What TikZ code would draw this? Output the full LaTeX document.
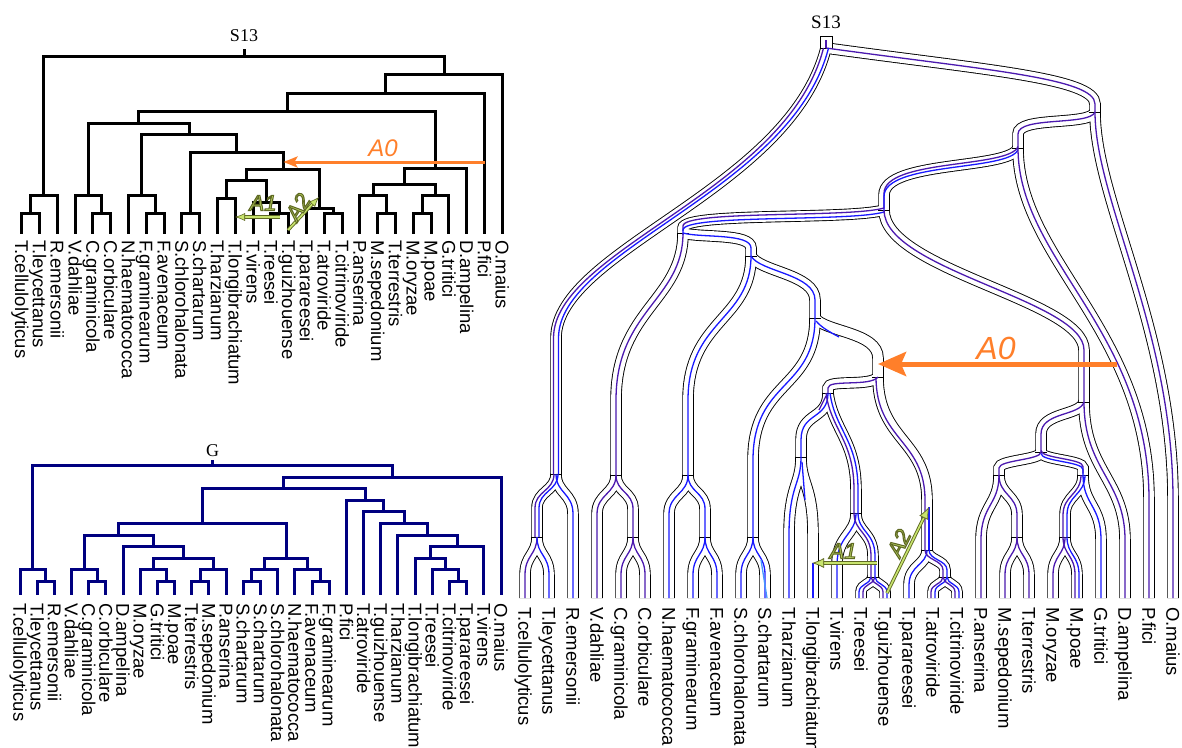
\documentclass[tikz,border=0pt]{standalone}
\usepackage{fontspec}
\setmainfont{Liberation Serif}
\newfontfamily\lab{Liberation Sans}
\usetikzlibrary{arrows.meta}
\definecolor{ind}{RGB}{75,25,175}
\definecolor{blu}{RGB}{25,25,255}
\definecolor{lblu}{RGB}{70,150,255}
\definecolor{navyt}{RGB}{0,0,128}
\definecolor{orng}{RGB}{255,127,42}
\definecolor{ag}{RGB}{200,228,110}
\definecolor{ao}{RGB}{95,105,35}
% clade bracket: xl, yl(bottom), xr, yr(bottom), y(bar)
\newcommand\cl[6][]{\draw[sp,#1] (#2,#3) -- (#2,#6) -- (#4,#6) -- (#4,#5);}
% smooth edge: style, parent x,y, child x,y, control y, curve end y
\newcommand\se[7]{\draw[#1] (#2,#3) .. controls (#2,#6) and (#4,#6) .. (#4,#7) -- (#4,#5);}
\newcommand\pRA[1]{\draw[#1] (826,48) .. controls (985,70) and (1095,78) .. (1095,104) -- (1095,112);}
\newcommand\pRT[1]{\draw[#1] (826,48) .. controls (790,190) and (556,250) .. (556,338) -- (556,474);}
\newcommand\pAB[1]{\draw[#1] (1095,112) .. controls (1090,126) and (1018,116) .. (1018,134) -- (1018,148);}
\newcommand\pAO[1]{\draw[#1] (1095,112) .. controls (1095,200) and (1173,330) .. (1173,500) -- (1173,598);}
\newcommand\pBC[1]{\draw[#1] (1018,148) .. controls (1010,170) and (884,160) .. (884,195) -- (884,210);}
\newcommand\pBP[1]{\draw[#1] (1018,148) .. controls (1018,260) and (1149,330) .. (1149,500) -- (1149,598);}
\newcommand\pCE[1]{\draw[#1] (884,210) .. controls (850,220) and (683,212) .. (683,228) -- (683,233);}
\newcommand\pCD[1]{\draw[#1] (884,210) .. controls (884,270) and (1084,300) .. (1084,350) -- (1084,402);}
\newcommand\pEV[1]{\draw[#1] (683,233) .. controls (683,300) and (616,310) .. (616,400) -- (616,475);}
\newcommand\pEF[1]{\draw[#1] (683,233) .. controls (700,238) and (751,233) .. (751,248) -- (751,256);}
\newcommand\pFN[1]{\draw[#1] (751,256) .. controls (751,320) and (688,320) .. (688,400) -- (688,475);}
\newcommand\pFG[1]{\draw[#1] (751,256) .. controls (760,272) and (815,274) .. (815,300) -- (815,318);}
\newcommand\pGS[1]{\draw[#1] (815,318) .. controls (815,390) and (753,380) .. (753,460) -- (753,537);}
\newcommand\pGH[1]{\draw[#1] (815,318) .. controls (825,332) and (878,332) .. (878,358) -- (878,377);}
\newcommand\pHI[1]{\draw[#1] (878,377) .. controls (870,387) and (828,379) .. (828,388) -- (828,393);}
\newcommand\pHK[1]{\draw[#1] (878,377) .. controls (878,440) and (927,440) .. (927,500) -- (927,550);}
\newcommand\pIT[1]{\draw[#1] (828,393) .. controls (828,420) and (801,412) .. (801,440) -- (801,457);}
\newcommand\pIV[1]{\draw[#1] (828,393) .. controls (833,430) and (856,440) .. (856,490) -- (856,513);}
\newcommand\pDQ[1]{\draw[#1] (1084,402) .. controls (1080,416) and (1041,412) .. (1041,434) -- (1041,452);}
\newcommand\pDA[1]{\draw[#1] (1084,402) .. controls (1084,470) and (1125,480) .. (1125,540) -- (1125,598);}
\newcommand\rtree[1]{%
 \pRA{#1}\pRT{#1}\pAB{#1}\pAO{#1}\pBC{#1}\pBP{#1}\pCE{#1}\pCD{#1}\pEV{#1}\pEF{#1}
 \pFN{#1}\pFG{#1}\pGS{#1}\pGH{#1}\pHI{#1}\pHK{#1}\pIT{#1}\pIV{#1}\pDQ{#1}\pDA{#1}
 \se{#1}{556}{474}{537}{537}{491}{508}\se{#1}{556}{474}{573}{598}{493}{514}
 \se{#1}{537}{537}{525}{598}{555}{575}\se{#1}{537}{537}{549}{598}{555}{575}
 \se{#1}{616}{475}{597}{598}{494}{514}\se{#1}{616}{475}{633}{537}{492}{509}
 \se{#1}{633}{537}{621}{598}{555}{575}\se{#1}{633}{537}{645}{598}{555}{575}
 \se{#1}{688}{475}{669}{598}{494}{514}\se{#1}{688}{475}{705}{537}{492}{509}
 \se{#1}{705}{537}{693}{598}{555}{575}\se{#1}{705}{537}{717}{598}{555}{575}
 \se{#1}{753}{537}{741}{598}{555}{575}\se{#1}{753}{537}{765}{598}{555}{575}
 \se{#1}{801}{457}{789}{598}{485}{535}\se{#1}{801}{457}{813}{598}{485}{535}
 \se{#1}{856}{513}{837}{598}{535}{565}\se{#1}{856}{513}{873}{577}{532}{556}
 \se{#1}{873}{577}{861}{598}{584}{592}\se{#1}{873}{577}{885}{598}{584}{592}
 \se{#1}{927}{550}{909}{598}{565}{585}\se{#1}{927}{550}{945}{577}{560}{570}
 \se{#1}{945}{577}{933}{598}{584}{592}\se{#1}{945}{577}{957}{598}{584}{592}
 \se{#1}{1041}{452}{999}{475}{460}{468}\se{#1}{1041}{452}{1083}{475}{460}{468}
 \se{#1}{999}{475}{981}{598}{505}{540}\se{#1}{999}{475}{1017}{537}{495}{515}
 \se{#1}{1017}{537}{1005}{598}{555}{575}\se{#1}{1017}{537}{1029}{598}{555}{575}
 \se{#1}{1083}{475}{1065}{537}{495}{515}\se{#1}{1083}{475}{1101}{598}{505}{540}
 \se{#1}{1065}{537}{1053}{598}{555}{575}\se{#1}{1065}{537}{1077}{598}{555}{575}
}
% outlined text: one copy, filled light green, stroked olive (PDF text render mode 2)
\newcommand\otext[1]{{\color{ag}\special{pdf:literal direct 0.373 0.412 0.137 RG 1.1 w 2 Tr}#1\special{pdf:literal direct 0 Tr}}}
\begin{document}
\begin{tikzpicture}[x=1pt,y=-1pt,
  sp/.style={line width=3pt,line cap=rect,line join=miter},
  lf/.style={font=\lab\fontsize{18.5}{20}\selectfont,rotate=-90,anchor=base west,inner sep=0pt,text height=12pt,text depth=0pt},
  gl/.style={line width=1.3pt},
  tk/.style={line width=0.8pt},
  alab/.style={font=\lab\itshape\fontsize{22}{22}\selectfont,inner sep=0pt},
  aout/.style={ao,line width=3.4pt},
  ain/.style={ag,line width=1.6pt},
]
\useasboundingbox (0,0) rectangle (1182,747);
\fill[white] (0,0) rectangle (1182,747);

% ================= top-left species tree S13 =================
\node[font=\fontsize{18}{18}\selectfont] (s13a) at (244,36) {S13};
\cl{21.7}{232}{39.5}{232}{213}
\cl{30.6}{213}{57.3}{232}{195}
\cl{92.9}{232}{110.7}{232}{213}
\cl{75.1}{232}{101.8}{213}{195}
\cl{146.3}{232}{164.1}{232}{213}
\cl{128.5}{232}{155.2}{213}{195}
\cl{181.9}{232}{199.7}{232}{213}
\cl{217.5}{232}{235.3}{232}{198}
\cl{270.9}{232}{288.7}{232}{213}
\cl{253.1}{232}{279.8}{213}{202}
\cl{226.4}{198}{266.45}{202}{180}
\cl{324.3}{232}{342.1}{232}{213}
\cl{306.5}{232}{333.2}{213}{208}
\cl{246.43}{180}{319.85}{208}{169}
\cl{190.8}{213}{283.14}{169}{152}
\cl{141.85}{195}{236.97}{152}{134}
\cl{88.45}{195}{189.41}{134}{123}
\cl{377.7}{232}{395.5}{232}{213}
\cl{359.9}{232}{386.6}{213}{195}
\cl{413.3}{232}{431.1}{232}{213}
\cl{422.2}{213}{448.9}{232}{195}
\cl{373.25}{195}{435.55}{195}{184}
\cl{404.4}{184}{466.7}{232}{168}
\cl{138.93}{123}{435.55}{168}{111}
\cl{287.24}{111}{484.5}{232}{93}
\cl{385.87}{93}{502.3}{232}{74}
\cl{43.95}{195}{444.09}{74}{56}
\draw[sp] (244.02,56) -- (244.02,50);
\foreach \n [count=\i] in {T.cellulolyticus,T.leycettanus,R.emersonii,V.dahliae,C.graminicola,C.orbiculare,N.haematococca,F.graminearum,F.avenaceum,S.chlorohalonata,S.chartarum,T.harzianum,T.longibrachiatum,T.virens,T.reesei,T.guizhouense,T.parareesei,T.atroviride,T.citrinoviride,P.anserina,M.sepedonium,T.terrestris,M.oryzae,M.poae,G.tritici,D.ampelina,P.fici,O.maius}
  \node[lf] (a\i) at ({21.7+17.8*(\i-1)-6.6},240) {\n};
% transfers on S13
\draw[orng,line width=3pt,-{Stealth[length=14pt,width=11pt,inset=3pt]}] (484.5,162) -- (283.5,162);
\node[text=orng,font=\lab\itshape\fontsize{24}{24}\selectfont,inner sep=0pt] (a0a) at (383,148) {A0};
\draw[aout,shorten >=8pt] (280,217) -- (235,217);
\draw[ain,-{Latex[length=10pt,width=8pt,color=ao,fill=ag,line width=0.6pt]}] (280,217) -- (235,217);
\draw[aout,shorten >=8pt] (288,230) -- (319,197);
\draw[ain,-{Latex[length=10pt,width=8pt,color=ao,fill=ag,line width=0.6pt]}] (288,230) -- (319,197);
\node[alab] (a1a) at (263,203) {\otext{A1}};
\node[alab,rotate=58] (a2a) at (298,207) {\otext{A2}};

% ================= bottom-left gene tree G =================
\node[font=\fontsize{18}{18}\selectfont] (ga) at (212.7,451) {G};
\begin{scope}[navyt]
\cl[navyt]{37.18}{593}{54.36}{593}{581.4}
\cl[navyt]{20}{593}{45.77}{581.4}{569.8}
\cl[navyt]{88.72}{593}{105.90}{593}{581.4}
\cl[navyt]{71.54}{593}{97.31}{581.4}{569.8}
\cl[navyt]{157.44}{593}{174.62}{593}{581.4}
\cl[navyt]{140.26}{593}{166.03}{581.4}{569.8}
\cl[navyt]{191.80}{593}{208.98}{593}{581.4}
\cl[navyt]{200.39}{581.4}{226.16}{593}{569.8}
\cl[navyt]{153.15}{569.8}{213.28}{569.8}{558.2}
\cl[navyt]{123.08}{593}{183.21}{558.2}{546.6}
\cl[navyt]{84.43}{569.8}{153.15}{546.6}{535}
\cl[navyt]{243.34}{593}{260.52}{593}{581.4}
\cl[navyt]{251.93}{581.4}{277.70}{593}{569.8}
\cl[navyt]{312.06}{593}{329.24}{593}{581.4}
\cl[navyt]{294.88}{593}{320.65}{581.4}{569.8}
\cl[navyt]{264.82}{569.8}{307.77}{569.8}{558.2}
\cl[navyt]{118.79}{535}{286.29}{558.2}{523.4}
\cl[navyt]{449.50}{593}{466.68}{593}{581.4}
\cl[navyt]{432.32}{593}{458.09}{581.4}{569.8}
\cl[navyt]{415.14}{593}{445.21}{569.8}{558.2}
\cl[navyt]{430.17}{558.2}{483.86}{593}{546.6}
\cl[navyt]{397.96}{593}{457.02}{546.6}{535}
\cl[navyt]{380.78}{593}{427.49}{535}{523.4}
\cl[navyt]{363.60}{593}{404.14}{523.4}{511.8}
\cl[navyt]{346.42}{593}{383.87}{511.8}{500.2}
\cl[navyt]{202.54}{523.4}{365.14}{500.2}{488.6}
\cl[navyt]{283.84}{488.6}{501.04}{593}{477}
\cl[navyt]{32.89}{569.8}{392.44}{477}{465.4}
\draw[sp,navyt] (212.67,465.4) -- (212.67,461);
\end{scope}
\foreach \n [count=\i] in {T.cellulolyticus,T.leycettanus,R.emersonii,V.dahliae,C.graminicola,C.orbiculare,D.ampelina,M.oryzae,G.tritici,M.poae,T.terrestris,M.sepedonium,P.anserina,S.chartarum,S.chartarum,S.chlorohalonata,N.haematococca,F.avenaceum,F.graminearum,P.fici,T.atroviride,T.guizhouense,T.harzianum,T.longibrachiatum,T.reesei,T.citrinoviride,T.parareesei,T.virens,O.maius}
  \node[lf] (b\i) at ({20+17.18*(\i-1)-6.6},603) {\n};

% ================= right: reconciliation =================
\node[font=\fontsize{19}{19}\selectfont] (s13b) at (826,22) {S13};
\rtree{black,line width=11.5pt}
\rtree{white,line width=9.7pt}
\draw[tk,fill=white] (820,36) rectangle (832,48);
\foreach \x/\y in {1095/112,1018/148,884/210,683/233,751/256,815/318,878/377,828/393,801/457,856/513,873/577,927/550,945/577,1084/402,1041/452,999/475,1083/475,1017/537,1065/537,556/474,537/537,616/475,633/537,688/475,705/537,753/537}
  \draw[tk] (\x-5.75,\y) -- (\x+5.75,\y);
% gene lineages
\draw[ind,gl] (826,40) -- (826,48);
\pRA{ind,gl}
\pRT{ind,gl,xshift=-2.5pt}\pRT{blu,gl,xshift=2.5pt}
\pAB{ind,gl}\pAO{ind,gl}
\pBC{ind,gl,yshift=1.5pt}\pBC{blu,gl,yshift=-1.5pt}
\pBP{ind,gl}
\pCE{ind,gl,yshift=2pt}\pCE{blu,gl,yshift=-2pt}
\pCD{ind,gl}
\pEV{ind,gl}\pEF{blu,gl}\pFN{blu,gl}\pFG{blu,gl}\pGS{blu,gl}
\draw[blu,gl] (816,321) .. controls (822,328) and (830,332) .. (839,337);
\pHI{ind,gl}\pHK{ind,gl,xshift=-2pt}
\draw[blu,gl] (929,507) -- (929,550);
\pIT{blu,gl}\draw[ind,gl] (826,396) -- (819,410);
\pIV{ind,gl,xshift=-2pt}\pIV{blu,gl,xshift=2pt}
\pDQ{ind,gl}\pDA{ind,gl}
\se{ind,gl,xshift=-2pt}{556}{474}{537}{537}{491}{508}\se{blu,gl,xshift=2pt}{556}{474}{537}{537}{491}{508}
\se{blu,gl}{556}{474}{573}{598}{493}{514}
\se{ind,gl}{537}{537}{525}{598}{555}{575}\se{blu,gl}{537}{537}{549}{598}{555}{575}
\se{ind,gl}{616}{475}{597}{598}{494}{514}\se{ind,gl}{616}{475}{633}{537}{492}{509}
\se{ind,gl}{633}{537}{621}{598}{555}{575}\se{ind,gl}{633}{537}{645}{598}{555}{575}
\se{blu,gl}{688}{475}{669}{598}{494}{514}\se{blu,gl}{688}{475}{705}{537}{492}{509}
\se{blu,gl}{705}{537}{693}{598}{555}{575}\se{blu,gl}{705}{537}{717}{598}{555}{575}
\se{blu,gl}{753}{537}{741}{598}{555}{575}\se{blu,gl}{753}{537}{765}{598}{555}{575}
\draw[lblu,gl] (761,560) -- (767,598);
\se{blu,gl}{801}{457}{789}{598}{485}{535}
\draw[blu,gl] (802,462) -- (805,500);
\draw[blu,gl] (813,563) -- (813,598);
\se{blu,gl}{856}{513}{837}{598}{535}{565}
\se{ind,gl,xshift=-2pt}{856}{513}{873}{577}{532}{556}\se{blu,gl,xshift=2pt}{856}{513}{873}{577}{532}{556}
\se{blu,gl,xshift=-2pt}{873}{577}{861}{598}{584}{592}\se{ind,gl,xshift=2pt}{873}{577}{861}{598}{584}{592}
\se{ind,gl,xshift=-2pt}{873}{577}{885}{598}{584}{592}\se{blu,gl,xshift=2pt}{873}{577}{885}{598}{584}{592}
\se{blu,gl}{927}{550}{909}{598}{565}{585}
\se{ind,gl,xshift=-2pt}{927}{550}{945}{577}{560}{570}\se{blu,gl,xshift=2pt}{927}{550}{945}{577}{560}{570}
\se{ind,gl,xshift=-2pt}{945}{577}{933}{598}{584}{592}\se{blu,gl,xshift=2pt}{945}{577}{933}{598}{584}{592}
\se{ind,gl,xshift=-2pt}{945}{577}{957}{598}{584}{592}\se{blu,gl,xshift=2pt}{945}{577}{957}{598}{584}{592}
\se{ind,gl}{1041}{452}{999}{475}{460}{468}
\se{ind,gl,yshift=1.5pt}{1041}{452}{1083}{475}{460}{468}\se{blu,gl,yshift=-1.5pt}{1041}{452}{1083}{475}{460}{468}
\se{ind,gl}{999}{475}{981}{598}{505}{540}\se{ind,gl}{999}{475}{1017}{537}{495}{515}
\se{ind,gl}{1017}{537}{1005}{598}{555}{575}\se{ind,gl}{1017}{537}{1029}{598}{555}{575}
\se{ind,gl,xshift=-2pt}{1083}{475}{1065}{537}{495}{515}\se{blu,gl,xshift=2pt}{1083}{475}{1065}{537}{495}{515}
\se{blu,gl}{1083}{475}{1101}{598}{505}{540}
\se{ind,gl}{1065}{537}{1053}{598}{555}{575}
\se{ind,gl,xshift=-2pt}{1065}{537}{1077}{598}{555}{575}\se{blu,gl,xshift=2pt}{1065}{537}{1077}{598}{555}{575}
\foreach \n [count=\i] in {T.cellulolyticus,T.leycettanus,R.emersonii,V.dahliae,C.graminicola,C.orbiculare,N.haematococca,F.graminearum,F.avenaceum,S.chlorohalonata,S.chartarum,T.harzianum,T.longibrachiatum,T.virens,T.reesei,T.guizhouense,T.parareesei,T.atroviride,T.citrinoviride,P.anserina,M.sepedonium,T.terrestris,M.oryzae,M.poae,G.tritici,D.ampelina,P.fici,O.maius}
  \node[lf] (c\i) at ({525+24*(\i-1)-6.6},607) {\n};
% transfers on reconciliation
\draw[orng,line width=5pt,-{Stealth[length=28pt,width=24pt,inset=5pt]}] (1117,364) -- (878,364);
\node[text=orng,font=\lab\itshape\fontsize{32}{32}\selectfont,inner sep=0pt] (a0b) at (996,348) {A0};
\draw[aout,shorten >=10pt] (877,563) -- (812,563);
\draw[ain,-{Latex[length=12pt,width=10pt,color=ao,fill=ag,line width=0.7pt]}] (877,563) -- (812,563);
\draw[aout,shorten >=10pt] (887,593) -- (929,507);
\draw[ain,-{Latex[length=12pt,width=10pt,color=ao,fill=ag,line width=0.7pt]}] (887,593) -- (929,507);
\node[alab] (a1b) at (843,551) {\otext{A1}};
\node[alab,rotate=64] (a2b) at (899,543) {\otext{A2}};
\end{tikzpicture}
\end{document}
